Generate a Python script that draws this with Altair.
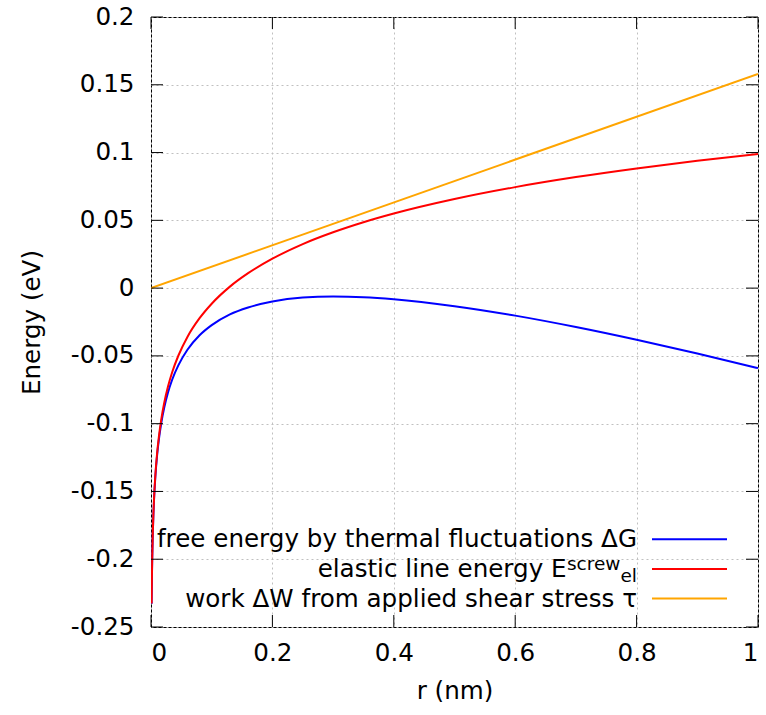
import altair as alt
import pandas as pd

# ---- data ----
r_vals = [0.001, 0.0015, 0.002, 0.003, 0.004, 0.005, 0.007, 0.01, 0.013, 0.017,
          0.022, 0.028, 0.035, 0.045, 0.06, 0.08, 0.1, 0.13, 0.16, 0.2,
          0.25, 0.3, 0.35, 0.4, 0.5, 0.6, 0.7, 0.8, 0.9, 1.0]
elastic_vals = [-0.2326, -0.2131, -0.1993, -0.1798, -0.1660, -0.1553, -0.1392, -0.1220, -0.1095, -0.0966,
                -0.0842, -0.0726, -0.0619, -0.0499, -0.0360, -0.0222, -0.0115, 0.0011, 0.0110, 0.0217,
                0.0325, 0.0412, 0.0486, 0.0550, 0.0657, 0.0745, 0.0819, 0.0883, 0.0939, 0.0990]
free_vals = [-0.2328, -0.2133, -0.1996, -0.1803, -0.1666, -0.1561, -0.1403, -0.1236, -0.1116, -0.0993,
             -0.0877, -0.0770, -0.0674, -0.0570, -0.0455, -0.0348, -0.0273, -0.0194, -0.0143, -0.0099,
             -0.0070, -0.0062, -0.0067, -0.0082, -0.0133, -0.0203, -0.0287, -0.0381, -0.0483, -0.0590]
work_r = [0.0, 1.0]
work_vals = [0.0, 0.158]

x_ticks = [0, 0.2, 0.4, 0.6, 0.8, 1]
y_ticks = [-0.25, -0.2, -0.15, -0.1, -0.05, 0, 0.05, 0.1, 0.15, 0.2]

series_colors = ["#0000ff", "#ff0000", "#ffa500"]

legend_main = ["free energy by thermal fluctuations ΔG", "elastic line energy E",
               "work ΔW from applied shear stress τ"]
legend_sup = "screw"
legend_sub = "el"

W, H = 607, 610
FONT = "DejaVu Sans"
FS = 24.6
FS_SMALL = 18.5

xs = alt.Scale(domain=[0, 1], nice=False, zero=False)
ys = alt.Scale(domain=[-0.25, 0.2], nice=False, zero=False)

x_axis = alt.Axis(values=x_ticks, title="r (nm)", labelExpr="format(datum.value, '~g')",
                  grid=True, ticks=False, tickSize=0, domain=False, labelPadding=14,
                  titleX=W / 2, titleY=64, titleBaseline="middle")
y_axis = alt.Axis(values=y_ticks, title="Energy (eV)",
                  labelExpr="replace(format(datum.value, '.2~f'), '−', '-')",
                  grid=True, ticks=False, tickSize=0, domain=False, labelPadding=17,
                  titleX=-119, titleY=H / 2, titleBaseline="middle")


def series_layer(rv, ev, color):
    d = pd.DataFrame({"r": rv, "E": ev})
    return alt.Chart(d).mark_line(color=color, strokeWidth=2, interpolate="monotone",
                                  clip=True).encode(
        x=alt.X("r:Q", scale=xs, axis=x_axis),
        y=alt.Y("E:Q", scale=ys, axis=y_axis))


blue = series_layer(r_vals, free_vals, series_colors[0])
red = series_layer(r_vals, elastic_vals, series_colors[1])
orange = series_layer(work_r, work_vals, series_colors[2])

TL = 12
ydf = pd.DataFrame({"r": [0.5] * len(y_ticks), "E": y_ticks})
xdf = pd.DataFrame({"r": x_ticks, "E": [0.0] * len(x_ticks)})
tick_left = alt.Chart(ydf).mark_rule(color="black", strokeWidth=1).encode(
    y=alt.Y("E:Q", scale=ys, axis=y_axis), x=alt.value(0), x2=alt.value(TL))
tick_right = alt.Chart(ydf).mark_rule(color="black", strokeWidth=1).encode(
    y=alt.Y("E:Q", scale=ys, axis=y_axis), x=alt.value(W - TL), x2=alt.value(W))
tick_bottom = alt.Chart(xdf).mark_rule(color="black", strokeWidth=1).encode(
    x=alt.X("r:Q", scale=xs, axis=x_axis), y=alt.value(H - TL), y2=alt.value(H))
tick_top = alt.Chart(xdf).mark_rule(color="black", strokeWidth=1).encode(
    x=alt.X("r:Q", scale=xs, axis=x_axis), y=alt.value(0), y2=alt.value(TL))

# ---- legend (inside, bottom right) ----
row_y = [522.3, 552.0, 581.5]
text_right = 486
line_x0, line_x1 = 501, 576
one = pd.DataFrame({"a": [0]})

legend_layers = []
for i, col in enumerate(series_colors):
    legend_layers.append(alt.Chart(one).mark_rule(color=col, strokeWidth=2).encode(
        x=alt.value(line_x0), x2=alt.value(line_x1), y=alt.value(row_y[i])))
sub_w = 0.893 * FS_SMALL
sup_w = 2.915 * FS_SMALL
for i, lab in enumerate(legend_main):
    right = text_right if i != 1 else text_right - sub_w - sup_w
    legend_layers.append(alt.Chart(one).mark_text(
        align="right", baseline="alphabetic", font=FONT, fontSize=FS, color="black").encode(
        x=alt.value(right), y=alt.value(row_y[i] + 8), text=alt.value(lab)))
legend_layers.append(alt.Chart(one).mark_text(
    align="right", baseline="alphabetic", font=FONT, fontSize=FS_SMALL, color="black").encode(
    x=alt.value(text_right - sub_w), y=alt.value(row_y[1] + 0.5), text=alt.value(legend_sup)))
legend_layers.append(alt.Chart(one).mark_text(
    align="right", baseline="alphabetic", font=FONT, fontSize=FS_SMALL, color="black").encode(
    x=alt.value(text_right), y=alt.value(row_y[1] + 12.5), text=alt.value(legend_sub)))

chart = alt.layer(blue, red, orange, tick_left, tick_right, tick_bottom, tick_top,
                  *legend_layers).properties(
    width=W, height=H,
    autosize=alt.AutoSizeParams(type="none"),
    padding={"left": 151, "top": 17, "right": 8, "bottom": 88},
    background="white",
).configure_view(stroke="black", strokeWidth=1).configure_axis(
    labelFont=FONT, labelFontSize=FS, labelColor="black",
    titleFont=FONT, titleFontSize=FS, titleFontWeight="normal", titleColor="black",
    gridColor="#c0c0c0", gridDash=[2, 3], gridWidth=1,
)

chart.save("out.html", embed_options={"renderer": "svg", "actions": False})
